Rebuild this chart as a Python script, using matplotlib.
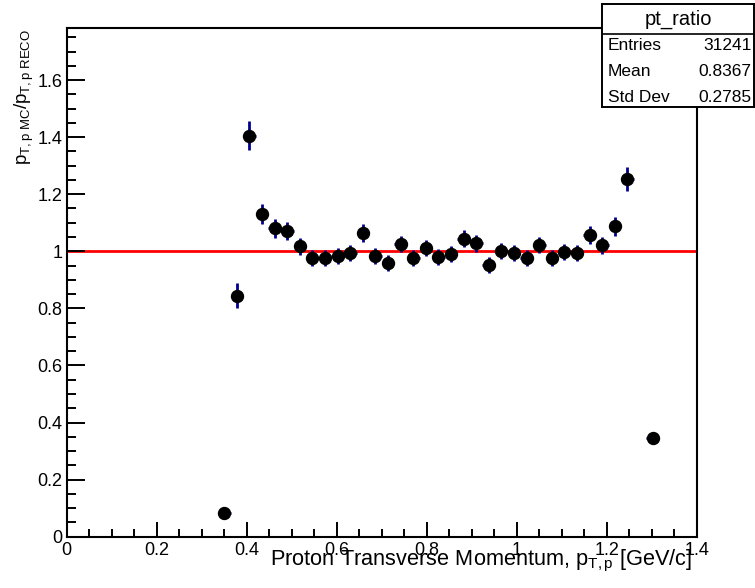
import numpy as np
import matplotlib
matplotlib.use("Agg")
import matplotlib.pyplot as plt
from matplotlib.ticker import MultipleLocator
from matplotlib.lines import Line2D

plt.rcParams['font.family'] = ['Liberation Sans', 'DejaVu Sans']
plt.rcParams['mathtext.fontset'] = 'custom'
plt.rcParams['mathtext.rm'] = 'Liberation Sans'
plt.rcParams['mathtext.it'] = 'Liberation Sans'
plt.rcParams['mathtext.bf'] = 'Liberation Sans:bold'

# pt_ratio histogram: bin centres (width 0.028 GeV/c), contents and errors
pt_centers = [0.350, 0.378, 0.406, 0.434, 0.462, 0.490, 0.518, 0.546, 0.574,
              0.602, 0.630, 0.658, 0.686, 0.714, 0.742, 0.770, 0.798, 0.826,
              0.854, 0.882, 0.910, 0.938, 0.966, 0.994, 1.022, 1.050, 1.078,
              1.106, 1.134, 1.162, 1.190, 1.218, 1.246, 1.302]
ratio = [0.083, 0.845, 1.405, 1.132, 1.080, 1.070, 1.017, 0.975, 0.975,
         0.985, 0.995, 1.064, 0.984, 0.958, 1.025, 0.978, 1.010, 0.981,
         0.991, 1.044, 1.028, 0.953, 1.000, 0.995, 0.977, 1.021, 0.977,
         0.999, 0.995, 1.057, 1.021, 1.087, 1.253, 0.346]
ratio_err = [0.015, 0.045, 0.050, 0.035, 0.032, 0.032, 0.030, 0.028, 0.028,
             0.028, 0.028, 0.030, 0.028, 0.028, 0.028, 0.028, 0.028, 0.028,
             0.028, 0.030, 0.030, 0.028, 0.028, 0.028, 0.028, 0.028, 0.028,
             0.028, 0.028, 0.033, 0.030, 0.034, 0.042, 0.020]
half_bin = 0.014

stats_name = "pt_ratio"
stats_rows = [("Entries", "31241"), ("Mean", "0.8367"), ("Std Dev", "0.2785")]

W, H = 755, 588
fig = plt.figure(figsize=(W / 100, H / 100), dpi=100)
ax = fig.add_axes([66.7 / W, 1 - 536.7 / H, (696.7 - 66.7) / W, (536.7 - 27.7) / H])

ax.axhline(1.0, color='red', lw=2, zorder=1)
ax.errorbar(pt_centers, ratio, yerr=ratio_err, xerr=half_bin, fmt='o',
            color='black', ms=8.6, mec='black', ecolor='#00008f',
            elinewidth=2, capsize=0, zorder=3)

ax.set_xlim(0, 1.4)
ax.set_ylim(0, 1.7835)
ax.xaxis.set_major_locator(MultipleLocator(0.2))
ax.xaxis.set_minor_locator(MultipleLocator(0.05))
ax.yaxis.set_major_locator(MultipleLocator(0.2))
ax.yaxis.set_minor_locator(MultipleLocator(0.05))

def fmt(v, pos):
    return "%g" % round(v, 3)
ax.xaxis.set_major_formatter(plt.FuncFormatter(fmt))
ax.yaxis.set_major_formatter(plt.FuncFormatter(fmt))

ax.tick_params(axis='both', which='both', direction='in', width=1.4,
               labelsize=13, top=False, right=False)
ax.tick_params(axis='y', which='major', length=13, pad=3)
ax.tick_params(axis='y', which='minor', length=6.5)
ax.tick_params(axis='x', which='major', length=11, pad=3.5)
ax.tick_params(axis='x', which='minor', length=5.5)
for sp in ax.spines.values():
    sp.set_linewidth(1.5)

# axis titles, ROOT style (right aligned at the axis end)
fig.text(692 / W, 1 - 565 / H,
         r'Proton Transverse Momentum, $p_{\mathrm{T,p}}$ [GeV/c]',
         ha='right', va='baseline', fontsize=15.7)
fig.text(24 / W, 1 - 29 / H,
         r'$p_{\mathrm{T,p\ MC}}/p_{\mathrm{T,p\ RECO}}$',
         rotation=90, ha='center', va='top', fontsize=13.5)

# stats box
bx0, bx1 = 602 / W, 754 / W
by0, by1 = 1 - 107 / H, 1 - 4 / H
sep = 1 - 34 / H
sax = fig.add_axes([bx0, by0, bx1 - bx0, by1 - by0])
sax.set_xlim(0, 1)
sax.set_ylim(0, 1)
sax.set_xticks([])
sax.set_yticks([])
for sp in sax.spines.values():
    sp.set_linewidth(1.4)
sax.set_facecolor('white')
ys = (sep - by0) / (by1 - by0)
sax.add_line(Line2D([0, 1], [ys, ys], color='black', lw=1.2))
sax.text(0.5, 1 - (19 - 4) / 103, stats_name, ha='center', va='center', fontsize=14.5)
for i, (lab, val) in enumerate(stats_rows):
    yy = 1 - ([45, 71, 97][i] - 4) / 103
    sax.text(0.04, yy, lab, ha='left', va='center', fontsize=12.5)
    sax.text(0.985, yy, val, ha='right', va='center', fontsize=12.5)

fig.savefig("out.png", dpi=100)
